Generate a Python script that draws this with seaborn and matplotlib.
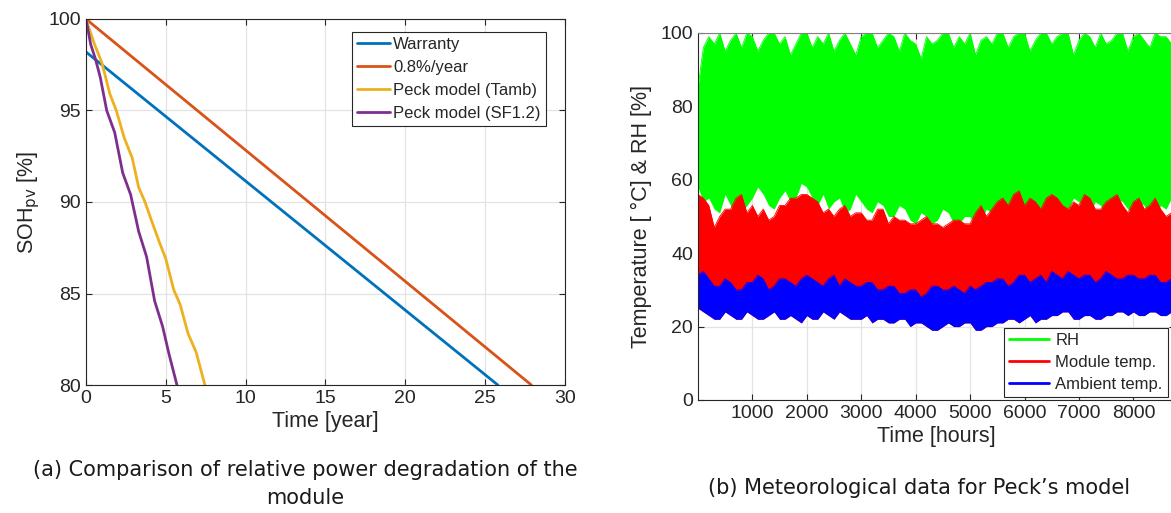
import numpy as np
import pandas as pd
import matplotlib
matplotlib.use("Agg")
import matplotlib.pyplot as plt
import seaborn as sns

# ---------------- data: (a) degradation ----------------
warranty_t = [0.0, 25.8]
warranty_soh = [98.2, 80.0]
linear_t = [0.0, 27.9]
linear_soh = [100.0, 80.0]
peck_tamb_t = [0.0, 0.5, 1.0, 1.5, 1.9, 2.4, 2.9, 3.3, 3.7, 4.1, 4.6, 5.0, 5.5, 5.9, 6.4, 6.9, 7.45]
peck_tamb_soh = [100.0, 98.7, 97.6, 95.9, 95.0, 93.5, 92.4, 90.8, 90.0, 89.0, 87.8, 86.9, 85.2, 84.4, 82.8, 81.8, 80.0]
peck_sf_t = [0.0, 0.3, 0.6, 0.9, 1.3, 1.8, 2.3, 2.8, 3.3, 3.8, 4.3, 4.8, 5.2, 5.7]
peck_sf_soh = [100.0, 98.6, 97.8, 96.8, 95.0, 93.8, 91.6, 90.4, 88.4, 87.0, 84.6, 83.2, 81.7, 80.0]
labels_a = ["Warranty", "0.8%/year", "Peck model (Tamb)", "Peck model (SF1.2)"]
colors_a = ["#0072BD", "#D95319", "#EDB120", "#7E2F8E"]

# ---------------- data: (b) meteorological envelopes (per 100 h) ----------------
hours = [0, 100, 200, 300, 400, 500, 600, 700, 800, 900,
         1000, 1100, 1200, 1300, 1400, 1500, 1600, 1700, 1800, 1900,
         2000, 2100, 2200, 2300, 2400, 2500, 2600, 2700, 2800, 2900,
         3000, 3100, 3200, 3300, 3400, 3500, 3600, 3700, 3800, 3900,
         4000, 4100, 4200, 4300, 4400, 4500, 4600, 4700, 4800, 4900,
         5000, 5100, 5200, 5300, 5400, 5500, 5600, 5700, 5800, 5900,
         6000, 6100, 6200, 6300, 6400, 6500, 6600, 6700, 6800, 6900,
         7000, 7100, 7200, 7300, 7400, 7500, 7600, 7700, 7800, 7900,
         8000, 8100, 8200, 8300, 8400, 8500, 8600, 8700, 8800]
rh_max = [85, 96, 99, 97, 100, 95, 98, 100, 96, 100,
          99, 95, 98, 100, 100, 97, 99, 94, 97, 100,
          100, 96, 99, 97, 100, 95, 98, 100, 97, 94,
          99, 100, 100, 96, 98, 100, 99, 95, 100, 98,
          97, 93, 99, 97, 98, 100, 100, 96, 99, 97,
          100, 94, 98, 99, 97, 100, 100, 96, 99, 100,
          100, 95, 98, 100, 100, 97, 99, 100, 100, 94,
          98, 100, 99, 96, 100, 97, 98, 100, 100, 95,
          99, 100, 98, 96, 100, 99, 99, 97, 98]
rh_min = [58, 54, 55, 52, 51, 56, 53, 50, 51, 53,
          55, 58, 56, 53, 52, 55, 57, 54, 55, 59,
          58, 55, 53, 56, 52, 54, 55, 51, 52, 56,
          54, 52, 51, 54, 53, 50, 50, 53, 52, 49,
          48, 51, 50, 48, 49, 52, 51, 48, 48, 50,
          50, 47, 49, 52, 51, 49, 50, 53, 52, 50,
          49, 52, 51, 50, 50, 54, 53, 51, 52, 55,
          54, 52, 51, 54, 53, 50, 52, 55, 54, 52,
          51, 54, 53, 50, 50, 53, 52, 55, 52]
mod_max = [56, 55, 53, 47, 50, 52, 52, 55, 56, 51,
           53, 50, 52, 49, 50, 53, 53, 55, 55, 56,
           56, 55, 54, 51, 52, 50, 52, 53, 50, 51,
           51, 49, 49, 52, 52, 48, 50, 49, 49, 48,
           48, 49, 50, 48, 48, 47, 48, 49, 49, 48,
           48, 51, 53, 50, 52, 54, 55, 53, 56, 57,
           53, 55, 54, 52, 55, 56, 55, 53, 52, 54,
           53, 56, 55, 52, 52, 54, 55, 56, 53, 51,
           54, 55, 52, 53, 55, 52, 50, 51, 50]
amb_max = [34, 35, 33, 31, 31, 33, 32, 30, 30, 32,
           32, 34, 33, 30, 31, 33, 33, 32, 31, 33,
           34, 33, 32, 31, 33, 34, 31, 33, 32, 31,
           31, 32, 32, 30, 30, 31, 31, 29, 29, 30,
           30, 28, 29, 31, 31, 30, 30, 31, 30, 29,
           31, 30, 31, 32, 32, 33, 33, 31, 32, 34,
           34, 32, 33, 34, 32, 35, 34, 33, 35, 34,
           33, 34, 34, 32, 33, 35, 34, 33, 33, 34,
           34, 33, 33, 34, 34, 32, 32, 33, 32]
amb_min = [25, 24, 23, 22, 22, 24, 23, 22, 22, 24,
           23, 22, 22, 23, 24, 22, 22, 23, 22, 21,
           23, 22, 22, 24, 23, 22, 24, 23, 22, 22,
           22, 23, 21, 22, 22, 21, 21, 22, 22, 20,
           21, 21, 20, 19, 19, 20, 21, 20, 20, 21,
           21, 19, 19, 20, 20, 21, 21, 22, 22, 21,
           22, 23, 21, 22, 22, 23, 23, 24, 24, 22,
           22, 23, 23, 22, 22, 23, 23, 24, 24, 23,
           24, 23, 23, 24, 24, 23, 23, 24, 23]
labels_b = ["RH", "Module temp.", "Ambient temp."]
colors_b = ["#00FF00", "#FF0000", "#0000FF"]

# ---------------- styling ----------------
sns.set_theme(style="ticks")
plt.rcParams["font.family"] = ["Liberation Sans", "DejaVu Sans"]
plt.rcParams["axes.edgecolor"] = "#262626"
plt.rcParams["xtick.color"] = "#262626"
plt.rcParams["ytick.color"] = "#262626"

fig = plt.figure(figsize=(11.71, 5.13), dpi=100)
ax1 = fig.add_axes([0.0734, 0.2495, 0.409, 0.7135])
ax2 = fig.add_axes([0.596, 0.2203, 0.4072, 0.7154])

TICK_FS = 14
LBL_FS = 15.5

# ---- (a) ----
series_a = [(warranty_t, warranty_soh), (linear_t, linear_soh),
            (peck_tamb_t, peck_tamb_soh), (peck_sf_t, peck_sf_soh)]
for (t, s), lab, col in zip(series_a, labels_a, colors_a):
    df = pd.DataFrame({"t": t, "soh": s})
    sns.lineplot(data=df, x="t", y="soh", ax=ax1, color=col, linewidth=2.0, label=lab)

ax1.set_xlim(0, 30)
ax1.set_ylim(80, 100)
ax1.set_xticks([0, 5, 10, 15, 20, 25, 30])
ax1.set_yticks([80, 85, 90, 95, 100])
ax1.grid(True, color="#e3e3e3", linewidth=0.9)
ax1.set_axisbelow(True)
ax1.set_xlabel("Time [year]", fontsize=LBL_FS, labelpad=3)
ax1.set_ylabel("SOH$_{\\mathrm{pv}}$ [%]", fontsize=LBL_FS, labelpad=5)
ax1.tick_params(direction="in", top=True, right=True, labelsize=TICK_FS, length=4, width=0.8)
for sp in ax1.spines.values():
    sp.set_visible(True)
    sp.set_linewidth(0.8)
leg1 = ax1.legend(loc="upper right", bbox_to_anchor=(0.96, 0.965), fontsize=12,
                  frameon=True, fancybox=False, edgecolor="#262626", framealpha=1,
                  borderpad=0.3, labelspacing=0.48, handlelength=2.0, handletextpad=0.2,
                  borderaxespad=0.0)
leg1.get_frame().set_linewidth(0.8)

# ---- (b) ----
ax2.fill_between(hours, rh_min, rh_max, color=colors_b[0], linewidth=0)
ax2.fill_between(hours, amb_min, mod_max, color=colors_b[1], linewidth=0)
ax2.fill_between(hours, amb_min, amb_max, color=colors_b[2], linewidth=0)
dfb = pd.DataFrame({"h": hours, "rh": rh_max, "mod": mod_max, "amb": amb_max})
for col_name, lab, col in zip(["rh", "mod", "amb"], labels_b, colors_b):
    sns.lineplot(data=dfb, x="h", y=col_name, ax=ax2, color=col, linewidth=0.6, label=lab)

ax2.set_xlim(0, 8760)
ax2.set_ylim(0, 100)
ax2.set_xticks([1000, 2000, 3000, 4000, 5000, 6000, 7000, 8000])
ax2.set_yticks([0, 20, 40, 60, 80, 100])
ax2.grid(True, color="#e3e3e3", linewidth=0.9)
ax2.set_axisbelow(True)
ax2.set_xlabel("Time [hours]", fontsize=LBL_FS, labelpad=3)
ax2.set_ylabel("Temperature [ °C] & RH [%]", fontsize=LBL_FS, labelpad=6)
ax2.tick_params(direction="in", top=True, right=True, labelsize=TICK_FS, length=4, width=0.8)
for sp in ax2.spines.values():
    sp.set_visible(True)
    sp.set_linewidth(0.8)
ax2.spines["top"].set_color("#808080")
leg2 = ax2.legend(loc="lower right", bbox_to_anchor=(0.985, 0.008), fontsize=12,
                  frameon=True, fancybox=False, edgecolor="#262626", framealpha=1,
                  borderpad=0.3, labelspacing=0.42, handlelength=2.4, handletextpad=0.4,
                  borderaxespad=0.0)
leg2.get_frame().set_linewidth(0.8)
for ln in leg2.get_lines():
    ln.set_linewidth(2.0)

# ---- captions ----
fig.text(0.2605, 0.0565, "(a) Comparison of relative power degradation of the\nmodule",
         ha="center", va="center", fontsize=15, family=["DejaVu Sans"], linespacing=1.45,
         color="#1a1a1a")
fig.text(0.785, 0.0487, "(b) Meteorological data for Peck\u2019s model",
         ha="center", va="center", fontsize=15, family=["DejaVu Sans"], color="#1a1a1a")

fig.savefig("out.png", dpi=100)
